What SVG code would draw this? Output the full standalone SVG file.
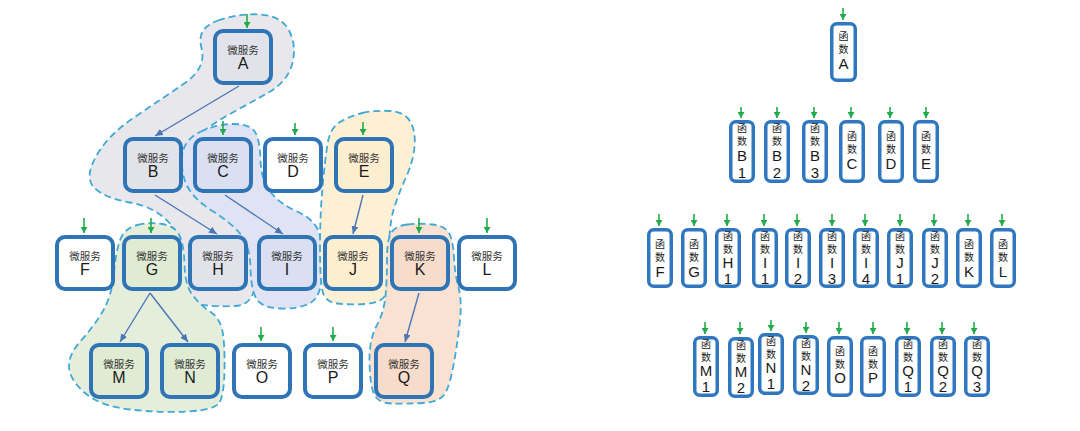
<svg xmlns="http://www.w3.org/2000/svg" width="1080" height="431" viewBox="0 0 1080 431">
<style>
.blob{stroke:#42a8d6;stroke-width:1.8;stroke-dasharray:7 4}
.box{stroke:#2f75b5;stroke-width:4;fill:#fff}
.fbox{stroke:#2f78bf;stroke-width:3.5;fill:#fff}
.gray{fill:#e2e3ea}.lav{fill:#dadff2}.yel{fill:#fdeecf}.pch{fill:#f8dccb}.grn{fill:#e0ebd4}
text{font-family:"Liberation Sans","Noto Sans CJK SC",sans-serif;text-anchor:middle;fill:#1a1a1a}
.t1{font-size:10.5px;fill:#333}
.t2{font-size:16px}
.c{font-size:10px;fill:#222}
.l{font-size:15px}
.conn{stroke:#4a76b8;stroke-width:1.4;fill:none;marker-end:url(#ah)}
.in{stroke:#22ab4b;stroke-width:1.6;fill:none;marker-end:url(#gh)}
</style>
<defs>
<marker id="ah" markerUnits="userSpaceOnUse" markerWidth="8" markerHeight="7" refX="8" refY="3.5" orient="auto"><path d="M0,0 L8,3.5 L0,7 z" fill="#4a76b8"/></marker>
<marker id="gh" markerUnits="userSpaceOnUse" markerWidth="7" markerHeight="7" refX="6" refY="3.5" orient="auto"><path d="M0,0 L6,3.5 L0,7 z" fill="#22ab4b"/></marker>
</defs>
<rect width="1080" height="431" fill="#fff"/>
<g id="regions">
<path class="blob" fill="#e8e8ec" d="M 218,20.5 Q 240,13 261,14.5 Q 282,16 289.5,31.5 Q 297,47 292,64.5 Q 287,82 268.5,92.5 Q 250,103 230,114 Q 210,125 199,135 Q 188,145 187,161.5 Q 186,178 200.5,190.5 Q 215,203 232.5,212.5 Q 250,222 253.5,243.5 Q 257,265 255,285 Q 253,305 235,306 Q 217,307 199.5,304.5 Q 182,302 182.5,270 Q 183,238 169,222.5 Q 155,207 130,202.5 Q 105,198 94.5,188 Q 84,178 96,156.5 Q 108,135 134,117.5 Q 160,100 183.5,84 Q 207,68 201.5,48 Q 196,28 218,20.5 Z"/>
<path class="blob" fill="#dfe3f3" d="M 200,132 Q 217,124 233.5,124 Q 250,124 255,132 Q 260,140 260.5,160 Q 261,180 270.5,192 Q 280,204 296,211 Q 312,218 317.5,229 Q 323,240 322.5,268 Q 322,296 311,302.5 Q 300,309 281,308.5 Q 262,308 256.5,299 Q 251,290 250.5,267.5 Q 250,245 240,233.5 Q 230,222 212.5,211 Q 195,200 188,187.5 Q 181,175 182,157.5 Q 183,140 200,132 Z"/>
<path class="blob" fill="#fdf0d5" d="M 362.5,113 Q 375,110 390,111 Q 405,112 410.5,122 Q 416,132 414.5,147 Q 413,162 405.5,178.5 Q 398,195 393.5,210 Q 389,225 389,257.5 Q 389,290 384.5,296.5 Q 380,303 365,304 Q 350,305 337.5,303.5 Q 325,302 322.5,291 Q 320,280 320,247.5 Q 320,215 322.5,187.5 Q 325,160 327.5,144 Q 330,128 340,122 Q 350,116 362.5,113 Z"/>
<path class="blob" fill="#fae2d3" d="M 407.5,224.5 Q 420,223 432.5,224.5 Q 445,226 449,233 Q 453,240 454,257.5 Q 455,275 458.5,287.5 Q 462,300 460,320 Q 458,340 454,362.5 Q 450,385 445,393.5 Q 440,402 422.5,403 Q 405,404 391.5,403.5 Q 378,403 374,394 Q 370,385 369.5,362.5 Q 369,340 376.5,326 Q 384,312 385.5,296 Q 387,280 387,260 Q 387,240 391,233 Q 395,226 407.5,224.5 Z"/>
<path class="blob" fill="#e4eedb" d="M 137.5,225 Q 150,222 162.5,224 Q 175,226 179.5,235.5 Q 184,245 184.5,265 Q 185,285 192.5,295 Q 200,305 210,311.5 Q 220,318 222.5,331.5 Q 225,345 224.5,370 Q 224,395 219.5,402.5 Q 215,410 187.5,411.5 Q 160,413 130,409.5 Q 100,406 85,393 Q 70,380 69,367.5 Q 68,355 81.5,340 Q 95,325 103.5,310 Q 112,295 114,272.5 Q 116,250 120.5,239 Q 125,228 137.5,225 Z"/>
</g>
<g id="connectors">
<line class="conn" x1="239" y1="86" x2="155" y2="136"/>
<line class="conn" x1="155" y1="195" x2="217" y2="234"/>
<line class="conn" x1="225" y1="195" x2="283" y2="234"/>
<line class="conn" x1="363" y1="195" x2="353" y2="234"/>
<line class="conn" x1="150" y1="293" x2="120" y2="342"/>
<line class="conn" x1="150" y1="293" x2="188" y2="342"/>
<line class="conn" x1="419" y1="293" x2="405" y2="342"/>
<line class="in" x1="247" y1="14" x2="247" y2="28"/>
<line class="in" x1="223" y1="121" x2="223" y2="135"/>
<line class="in" x1="295" y1="123" x2="295" y2="135"/>
<line class="in" x1="363" y1="122" x2="363" y2="135"/>
<line class="in" x1="84" y1="218" x2="84" y2="233"/>
<line class="in" x1="151" y1="218" x2="151" y2="233"/>
<line class="in" x1="419" y1="218" x2="419" y2="233"/>
<line class="in" x1="487" y1="218" x2="487" y2="233"/>
<line class="in" x1="261" y1="327" x2="261" y2="341"/>
<line class="in" x1="333" y1="327" x2="333" y2="341"/>
<line class="in" x1="843" y1="8" x2="843" y2="20"/>
<line class="in" x1="741" y1="107" x2="741" y2="118"/>
<line class="in" x1="777" y1="107" x2="777" y2="118"/>
<line class="in" x1="814" y1="107" x2="814" y2="118"/>
<line class="in" x1="851" y1="107" x2="851" y2="118"/>
<line class="in" x1="890" y1="107" x2="890" y2="118"/>
<line class="in" x1="926" y1="107" x2="926" y2="118"/>
<line class="in" x1="659" y1="214" x2="659" y2="226"/>
<line class="in" x1="694" y1="214" x2="694" y2="226"/>
<line class="in" x1="727" y1="214" x2="727" y2="226"/>
<line class="in" x1="764" y1="214" x2="764" y2="226"/>
<line class="in" x1="797" y1="214" x2="797" y2="226"/>
<line class="in" x1="832" y1="214" x2="832" y2="226"/>
<line class="in" x1="865" y1="214" x2="865" y2="226"/>
<line class="in" x1="900" y1="214" x2="900" y2="226"/>
<line class="in" x1="934" y1="214" x2="934" y2="226"/>
<line class="in" x1="968" y1="214" x2="968" y2="226"/>
<line class="in" x1="1002" y1="214" x2="1002" y2="226"/>
<line class="in" x1="705" y1="322" x2="705" y2="334"/>
<line class="in" x1="740" y1="322" x2="740" y2="334"/>
<line class="in" x1="771" y1="320" x2="771" y2="331"/>
<line class="in" x1="806" y1="322" x2="806" y2="333"/>
<line class="in" x1="839" y1="322" x2="839" y2="334"/>
<line class="in" x1="873" y1="322" x2="873" y2="334"/>
<line class="in" x1="907" y1="322" x2="907" y2="334"/>
<line class="in" x1="942" y1="322" x2="942" y2="334"/>
<line class="in" x1="974" y1="322" x2="974" y2="334"/>
</g>
<g id="ms-A"><rect class="box gray" x="215" y="31" width="56" height="52" rx="8"/><text class="t1" x="243" y="54">微服务</text><text class="t2" x="243" y="69">A</text></g>
<g id="ms-B"><rect class="box gray" x="125" y="139" width="56" height="52" rx="8"/><text class="t1" x="153" y="162">微服务</text><text class="t2" x="153" y="177">B</text></g>
<g id="ms-C"><rect class="box lav" x="195" y="139" width="56" height="52" rx="8"/><text class="t1" x="223" y="162">微服务</text><text class="t2" x="223" y="177">C</text></g>
<g id="ms-D"><rect class="box" x="265" y="139" width="56" height="52" rx="8"/><text class="t1" x="293" y="162">微服务</text><text class="t2" x="293" y="177">D</text></g>
<g id="ms-E"><rect class="box yel" x="336" y="139" width="56" height="52" rx="8"/><text class="t1" x="364" y="162">微服务</text><text class="t2" x="364" y="177">E</text></g>
<g id="ms-F"><rect class="box" x="57" y="237" width="56" height="52" rx="8"/><text class="t1" x="85" y="260">微服务</text><text class="t2" x="85" y="275">F</text></g>
<g id="ms-G"><rect class="box grn" x="124" y="237" width="56" height="52" rx="8"/><text class="t1" x="152" y="260">微服务</text><text class="t2" x="152" y="275">G</text></g>
<g id="ms-H"><rect class="box gray" x="190" y="237" width="56" height="52" rx="8"/><text class="t1" x="218" y="260">微服务</text><text class="t2" x="218" y="275">H</text></g>
<g id="ms-I"><rect class="box lav" x="259" y="237" width="56" height="52" rx="8"/><text class="t1" x="287" y="260">微服务</text><text class="t2" x="287" y="275">I</text></g>
<g id="ms-J"><rect class="box yel" x="325" y="237" width="56" height="52" rx="8"/><text class="t1" x="353" y="260">微服务</text><text class="t2" x="353" y="275">J</text></g>
<g id="ms-K"><rect class="box pch" x="392" y="237" width="56" height="52" rx="8"/><text class="t1" x="420" y="260">微服务</text><text class="t2" x="420" y="275">K</text></g>
<g id="ms-L"><rect class="box" x="459" y="237" width="56" height="52" rx="8"/><text class="t1" x="487" y="260">微服务</text><text class="t2" x="487" y="275">L</text></g>
<g id="ms-M"><rect class="box grn" x="91" y="345" width="56" height="52" rx="8"/><text class="t1" x="119" y="368">微服务</text><text class="t2" x="119" y="383">M</text></g>
<g id="ms-N"><rect class="box grn" x="162" y="345" width="56" height="52" rx="8"/><text class="t1" x="190" y="368">微服务</text><text class="t2" x="190" y="383">N</text></g>
<g id="ms-O"><rect class="box" x="234" y="345" width="56" height="52" rx="8"/><text class="t1" x="262" y="368">微服务</text><text class="t2" x="262" y="383">O</text></g>
<g id="ms-P"><rect class="box" x="305" y="345" width="56" height="52" rx="8"/><text class="t1" x="333" y="368">微服务</text><text class="t2" x="333" y="383">P</text></g>
<g id="ms-Q"><rect class="box pch" x="376" y="345" width="56" height="52" rx="8"/><text class="t1" x="404" y="368">微服务</text><text class="t2" x="404" y="383">Q</text></g>

<g id="fn-A"><rect class="fbox" x="831.75" y="23.75" width="23.5" height="56.5" rx="5"/><text class="c" x="843.5" y="40">函</text><text class="c" x="843.5" y="53">数</text><text class="l" x="843.5" y="69">A</text></g>

<g id="fn-B1"><rect class="fbox" x="730.75" y="121.75" width="22.5" height="59.5" rx="5"/><text class="c" x="742" y="132">函</text><text class="c" x="742" y="145">数</text><text class="l" x="742" y="161">B</text><text class="l" x="742" y="178">1</text></g>
<g id="fn-B2"><rect class="fbox" x="765.75" y="121.75" width="22.5" height="59.5" rx="5"/><text class="c" x="777" y="132">函</text><text class="c" x="777" y="145">数</text><text class="l" x="777" y="161">B</text><text class="l" x="777" y="178">2</text></g>
<g id="fn-B3"><rect class="fbox" x="803.75" y="121.75" width="22.5" height="59.5" rx="5"/><text class="c" x="815" y="132">函</text><text class="c" x="815" y="145">数</text><text class="l" x="815" y="161">B</text><text class="l" x="815" y="178">3</text></g>
<g id="fn-C"><rect class="fbox" x="840.75" y="121.75" width="22.5" height="59.5" rx="5"/><text class="c" x="852" y="140">函</text><text class="c" x="852" y="153">数</text><text class="l" x="852" y="169">C</text></g>
<g id="fn-D"><rect class="fbox" x="879.75" y="121.75" width="22.5" height="59.5" rx="5"/><text class="c" x="891" y="140">函</text><text class="c" x="891" y="153">数</text><text class="l" x="891" y="169">D</text></g>
<g id="fn-E"><rect class="fbox" x="914.75" y="121.75" width="22.5" height="59.5" rx="5"/><text class="c" x="926" y="140">函</text><text class="c" x="926" y="153">数</text><text class="l" x="926" y="169">E</text></g>

<g id="fn-F"><rect class="fbox" x="648.75" y="229.75" width="22.5" height="56.5" rx="5"/><text class="c" x="660" y="248">函</text><text class="c" x="660" y="261">数</text><text class="l" x="660" y="277">F</text></g>
<g id="fn-G"><rect class="fbox" x="682.75" y="229.75" width="22.5" height="56.5" rx="5"/><text class="c" x="694" y="248">函</text><text class="c" x="694" y="261">数</text><text class="l" x="694" y="277">G</text></g>
<g id="fn-H1"><rect class="fbox" x="716.75" y="229.75" width="22.5" height="56.5" rx="5"/><text class="c" x="728" y="240">函</text><text class="c" x="728" y="253">数</text><text class="l" x="728" y="268">H</text><text class="l" x="728" y="284">1</text></g>
<g id="fn-I1"><rect class="fbox" x="753.75" y="229.75" width="22.5" height="56.5" rx="5"/><text class="c" x="765" y="240">函</text><text class="c" x="765" y="253">数</text><text class="l" x="765" y="268">I</text><text class="l" x="765" y="284">1</text></g>
<g id="fn-I2"><rect class="fbox" x="786.75" y="229.75" width="22.5" height="56.5" rx="5"/><text class="c" x="798" y="240">函</text><text class="c" x="798" y="253">数</text><text class="l" x="798" y="268">I</text><text class="l" x="798" y="284">2</text></g>
<g id="fn-I3"><rect class="fbox" x="820.75" y="229.75" width="22.5" height="56.5" rx="5"/><text class="c" x="832" y="240">函</text><text class="c" x="832" y="253">数</text><text class="l" x="832" y="268">I</text><text class="l" x="832" y="284">3</text></g>
<g id="fn-I4"><rect class="fbox" x="854.75" y="229.75" width="22.5" height="56.5" rx="5"/><text class="c" x="866" y="240">函</text><text class="c" x="866" y="253">数</text><text class="l" x="866" y="268">I</text><text class="l" x="866" y="284">4</text></g>
<g id="fn-J1"><rect class="fbox" x="888.75" y="229.75" width="22.5" height="56.5" rx="5"/><text class="c" x="900" y="240">函</text><text class="c" x="900" y="253">数</text><text class="l" x="900" y="268">J</text><text class="l" x="900" y="284">1</text></g>
<g id="fn-J2"><rect class="fbox" x="923.75" y="229.75" width="22.5" height="56.5" rx="5"/><text class="c" x="935" y="240">函</text><text class="c" x="935" y="253">数</text><text class="l" x="935" y="268">J</text><text class="l" x="935" y="284">2</text></g>
<g id="fn-K"><rect class="fbox" x="957.75" y="229.75" width="22.5" height="56.5" rx="5"/><text class="c" x="969" y="248">函</text><text class="c" x="969" y="261">数</text><text class="l" x="969" y="277">K</text></g>
<g id="fn-L"><rect class="fbox" x="991.75" y="229.75" width="22.5" height="56.5" rx="5"/><text class="c" x="1003" y="248">函</text><text class="c" x="1003" y="261">数</text><text class="l" x="1003" y="277">L</text></g>

<g id="fn-M1"><rect class="fbox" x="694.75" y="337.75" width="22.5" height="57.5" rx="5"/><text class="c" x="706" y="348">函</text><text class="c" x="706" y="361">数</text><text class="l" x="706" y="376">M</text><text class="l" x="706" y="392">1</text></g>
<g id="fn-M2"><rect class="fbox" x="729.75" y="338.75" width="22.5" height="57.5" rx="5"/><text class="c" x="741" y="349">函</text><text class="c" x="741" y="362">数</text><text class="l" x="741" y="377">M</text><text class="l" x="741" y="393">2</text></g>
<g id="fn-N1"><rect class="fbox" x="759.75" y="334.75" width="22.5" height="58.5" rx="5"/><text class="c" x="771" y="345">函</text><text class="c" x="771" y="358">数</text><text class="l" x="771" y="373">N</text><text class="l" x="771" y="389">1</text></g>
<g id="fn-N2"><rect class="fbox" x="794.75" y="336.75" width="22.5" height="56.5" rx="5"/><text class="c" x="806" y="347">函</text><text class="c" x="806" y="360">数</text><text class="l" x="806" y="375">N</text><text class="l" x="806" y="391">2</text></g>
<g id="fn-O"><rect class="fbox" x="828.75" y="337.75" width="22.5" height="57.5" rx="5"/><text class="c" x="840" y="355">函</text><text class="c" x="840" y="368">数</text><text class="l" x="840" y="383">O</text></g>
<g id="fn-P"><rect class="fbox" x="861.75" y="337.75" width="22.5" height="57.5" rx="5"/><text class="c" x="873" y="355">函</text><text class="c" x="873" y="368">数</text><text class="l" x="873" y="383">P</text></g>
<g id="fn-Q1"><rect class="fbox" x="896.75" y="337.75" width="22.5" height="57.5" rx="5"/><text class="c" x="908" y="348">函</text><text class="c" x="908" y="361">数</text><text class="l" x="908" y="376">Q</text><text class="l" x="908" y="392">1</text></g>
<g id="fn-Q2"><rect class="fbox" x="931.75" y="337.75" width="22.5" height="57.5" rx="5"/><text class="c" x="943" y="348">函</text><text class="c" x="943" y="361">数</text><text class="l" x="943" y="376">Q</text><text class="l" x="943" y="392">2</text></g>
<g id="fn-Q3"><rect class="fbox" x="965.75" y="337.75" width="22.5" height="57.5" rx="5"/><text class="c" x="977" y="348">函</text><text class="c" x="977" y="361">数</text><text class="l" x="977" y="376">Q</text><text class="l" x="977" y="392">3</text></g>
</svg>
